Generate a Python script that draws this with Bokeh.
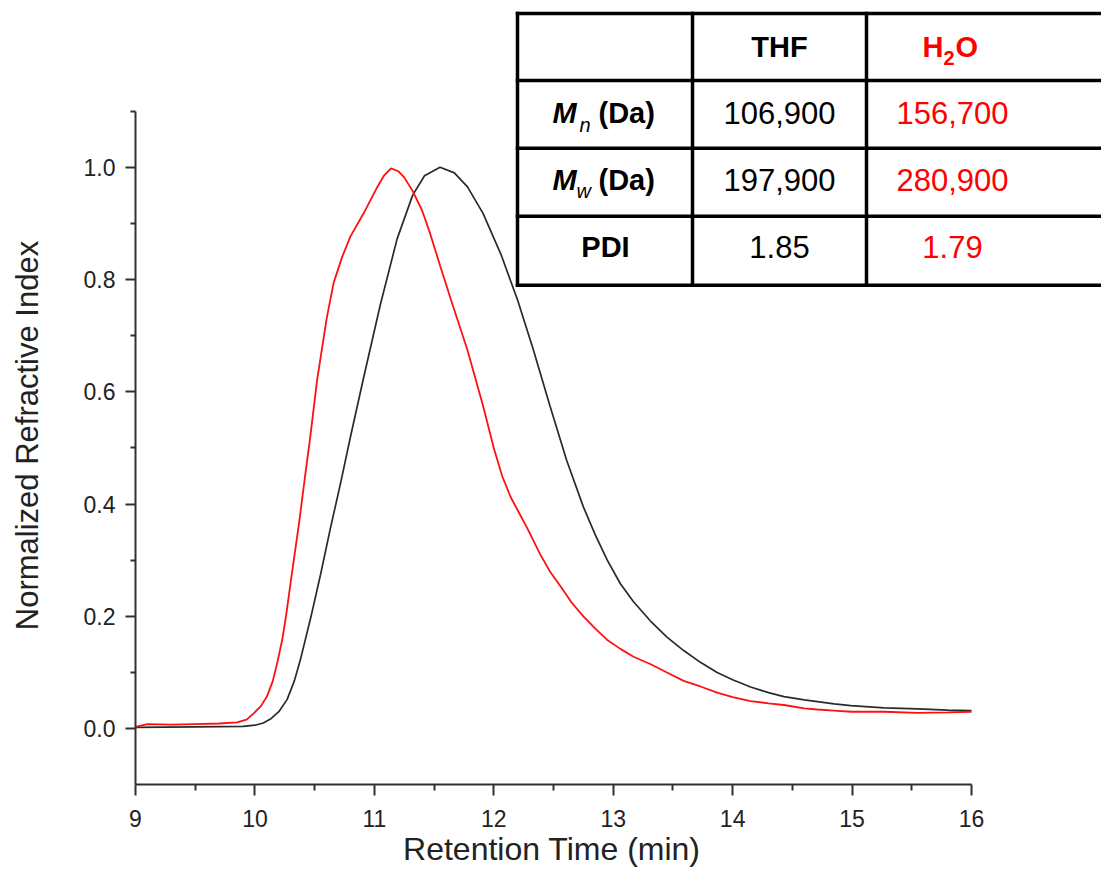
from bokeh.plotting import figure
from bokeh.models import Range1d, FixedTicker, Label, CustomJSTickFormatter
from bokeh.embed import file_html
from bokeh.resources import INLINE

# ---------------- data ----------------
thf_time = [9.0, 9.5, 9.9, 10.0, 10.07, 10.13, 10.2, 10.27, 10.33, 10.38, 10.47, 10.55, 10.63,
            10.72, 10.80, 10.91, 11.05, 11.19, 11.32, 11.42, 11.55, 11.67, 11.78, 11.91, 12.06,
            12.20, 12.33, 12.47, 12.61, 12.75, 12.85, 12.95, 13.06, 13.17, 13.31, 13.45, 13.59,
            13.73, 13.87, 14.0, 14.15, 14.3, 14.43, 14.6, 14.71, 14.85, 14.99, 15.27, 15.55,
            15.8, 16.0]
thf_ri = [0.002, 0.003, 0.004, 0.006, 0.010, 0.017, 0.030, 0.052, 0.085, 0.122, 0.200, 0.275, 0.355,
          0.440, 0.520, 0.625, 0.755, 0.872, 0.950, 0.985, 1.000, 0.990, 0.965, 0.918, 0.845,
          0.763, 0.676, 0.575, 0.478, 0.395, 0.345, 0.300, 0.258, 0.226, 0.192, 0.163, 0.139,
          0.118, 0.100, 0.087, 0.074, 0.064, 0.057, 0.051, 0.048, 0.044, 0.041, 0.037, 0.035,
          0.033, 0.032]

h2o_time = [9.0, 9.1, 9.3, 9.5, 9.7, 9.85, 9.93, 9.99, 10.05, 10.1, 10.15, 10.19, 10.23, 10.26,
            10.31, 10.37, 10.42, 10.46, 10.52, 10.60, 10.66, 10.73, 10.80, 10.91, 11.02, 11.08,
            11.14, 11.2, 11.25, 11.32, 11.40, 11.47, 11.55, 11.64, 11.78, 11.91, 12.00, 12.07,
            12.14, 12.21, 12.28, 12.39, 12.47, 12.56, 12.65, 12.75, 12.85, 12.95, 13.06, 13.17,
            13.31, 13.45, 13.59, 13.73, 13.87, 14.0, 14.15, 14.3, 14.43, 14.6, 14.71, 14.85,
            14.99, 15.27, 15.55, 15.8, 16.0]
h2o_ri = [0.003, 0.008, 0.007, 0.008, 0.009, 0.011, 0.016, 0.027, 0.040, 0.057, 0.085, 0.120, 0.160,
          0.200, 0.277, 0.367, 0.450, 0.514, 0.620, 0.730, 0.795, 0.840, 0.877, 0.918, 0.963, 0.985,
          0.998, 0.993, 0.982, 0.958, 0.923, 0.880, 0.825, 0.765, 0.674, 0.575, 0.500, 0.450,
          0.413, 0.385, 0.357, 0.310, 0.280, 0.253, 0.225, 0.200, 0.178, 0.158, 0.142, 0.128,
          0.115, 0.100, 0.085, 0.075, 0.064, 0.056, 0.049, 0.045, 0.042, 0.036, 0.034, 0.032,
          0.030, 0.030, 0.028, 0.029, 0.030]

x_ticks = [9, 10, 11, 12, 13, 14, 15, 16]
x_minor = [9.5, 10.5, 11.5, 12.5, 13.5, 14.5, 15.5]
y_ticks = [0.0, 0.2, 0.4, 0.6, 0.8, 1.0]
y_minor = [-0.1, 0.1, 0.3, 0.5, 0.7, 0.9, 1.1]

x_label = "Retention Time (min)"
y_label = "Normalized Refractive Index"

col_thf = "THF"
mn_vals = ["106,900", "156,700"]
mw_vals = ["197,900", "280,900"]
pdi_vals = ["1.85", "1.79"]

# ---------------- layout ----------------
W, H = 1101, 869
X0_PX, X_SCALE = 135.0, 836.0 / 7.0
Y0_PX, Y_SCALE = 729.0, 562.0
FRAME_L, FRAME_B = 135, 785

def dx(px):
    return 9 + (px - X0_PX) / X_SCALE

def dy(py):
    return (Y0_PX - py) / Y_SCALE

RED = "#ff0000"
AX = "#303030"
FONT = "Liberation Sans"
NBSP = "\u00a0"

p = figure(width=W, height=H, output_backend="svg", toolbar_location=None,
           x_range=Range1d(9, dx(W)), y_range=Range1d(dy(FRAME_B), dy(0)),
           min_border_left=FRAME_L, min_border_right=0, min_border_top=0,
           min_border_bottom=H - FRAME_B)
p.outline_line_color = None
p.grid.visible = False
p.background_fill_color = "white"
p.border_fill_color = "white"

p.xaxis.bounds = (9, 16)
p.xaxis.ticker = FixedTicker(ticks=x_ticks, minor_ticks=x_minor)
p.yaxis.bounds = (-0.1, 1.1)
p.yaxis.ticker = FixedTicker(ticks=y_ticks, minor_ticks=y_minor)
p.yaxis.formatter = CustomJSTickFormatter(code="return tick.toFixed(1)")
for ax, mj, mn in ((p.xaxis, 11, 6), (p.yaxis, 10, 5)):
    ax.axis_line_width = 2
    ax.axis_line_color = AX
    ax.major_tick_line_width = 2
    ax.minor_tick_line_width = 2
    ax.major_tick_line_color = AX
    ax.minor_tick_line_color = AX
    ax.major_tick_in = 0
    ax.minor_tick_in = 0
    ax.major_tick_out = mj
    ax.minor_tick_out = mn
    ax.major_label_text_font = FONT
    ax.major_label_text_font_size = "23px"
    ax.major_label_text_color = "#222222"
    ax.axis_label_text_font = FONT
    ax.axis_label_text_font_style = "normal"
    ax.axis_label_text_color = "#222222"
p.xaxis.major_label_standoff = 14
p.yaxis.major_label_standoff = 10

# axis titles; the frame spans the table area too, so trailing no-break spaces
# shift the visible text to where the reference centres it on the drawn axes
p.xaxis.axis_label = x_label + NBSP * 15
p.xaxis.axis_label_text_font_size = "32px"
p.xaxis.axis_label_standoff = 1
p.yaxis.axis_label = y_label + NBSP * 10
p.yaxis.axis_label_text_font_size = "31px"
p.yaxis.axis_label_standoff = 36

# curves
p.line(thf_time, thf_ri, line_color="#2a2a2a", line_width=1.7)
p.line(h2o_time, h2o_ri, line_color="#ff1010", line_width=1.8)

# table
T_L, T_R = 517, 1140
rows_px = [13, 80, 148, 216, 285]
cols_px = [517, 692, 866]
p.quad(left=dx(T_L), right=dx(T_R), top=dy(rows_px[0]), bottom=dy(rows_px[-1]),
       fill_color="white", line_color=None)
p.segment(x0=[dx(T_L)] * len(rows_px), x1=[dx(T_R)] * len(rows_px),
          y0=[dy(r) for r in rows_px], y1=[dy(r) for r in rows_px],
          line_color="black", line_width=3.5, line_cap="square")
p.segment(x0=[dx(c) for c in cols_px], x1=[dx(c) for c in cols_px],
          y0=[dy(rows_px[0])] * len(cols_px), y1=[dy(rows_px[-1])] * len(cols_px),
          line_color="black", line_width=3.5, line_cap="square")

def txt(s, px, py, size, color="black", style="normal", align="center"):
    p.add_layout(Label(x=dx(px), y=dy(py), text=s, text_font=FONT, text_font_size=f"{size}px",
                       text_font_style=style, text_color=color, text_align=align,
                       text_baseline="middle"))

C1, C2, C3 = 605, 779, 952
BOLD, VAL, SUB = 29, 31, 20
# header (y = visual centre of capitals)
txt(col_thf, C2, 47, BOLD, style="bold")
txt("H", 922, 47, BOLD, color=RED, style="bold", align="left")
txt("2", 943, 58, SUB, color=RED, style="bold", align="left")
txt("O", 955, 47, BOLD, color=RED, style="bold", align="left")
# Mn row
txt("M", 552, 113, BOLD, style="bold italic", align="left")
txt("n", 579, 125, SUB, style="italic", align="left")
txt("(Da)", 598, 113, BOLD, style="bold", align="left")
txt(mn_vals[0], C2, 113, VAL)
txt(mn_vals[1], C3, 113, VAL, color=RED)
# Mw row
txt("M", 552, 180, BOLD, style="bold italic", align="left")
txt("w", 576, 191, SUB, style="italic", align="left")
txt("(Da)", 598, 180, BOLD, style="bold", align="left")
txt(mw_vals[0], C2, 180, VAL)
txt(mw_vals[1], C3, 180, VAL, color=RED)
# PDI row
txt("PDI", C1, 247, BOLD, style="bold")
txt(pdi_vals[0], C2, 247, VAL)
txt(pdi_vals[1], C3, 247, VAL, color=RED)

open("out.html", "w").write(file_html(p, INLINE))
